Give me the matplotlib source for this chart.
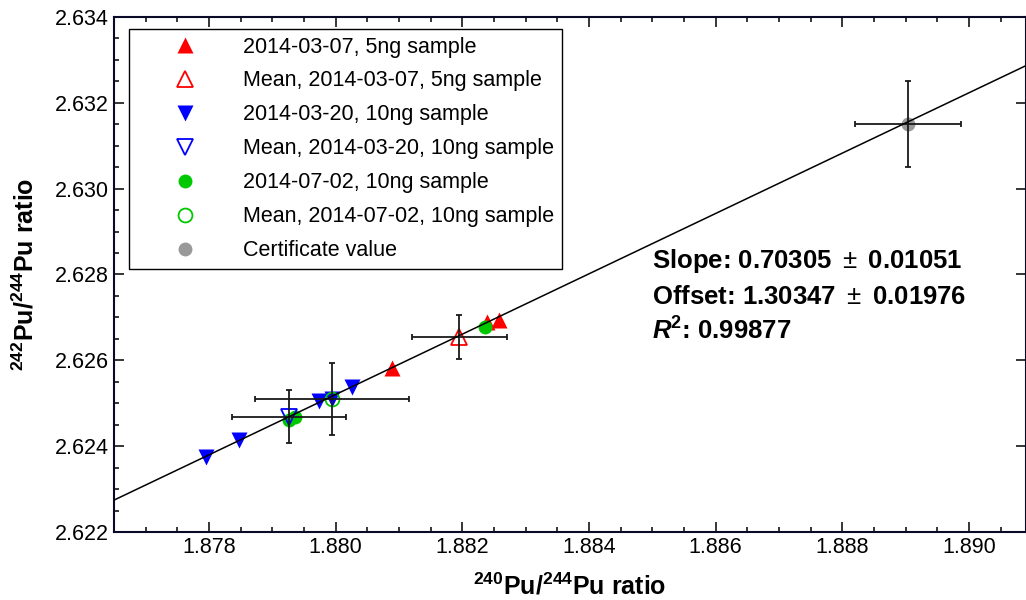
import matplotlib
matplotlib.use("Agg")
import matplotlib.pyplot as plt
import numpy as np
from matplotlib.ticker import MultipleLocator, FormatStrFormatter

plt.rcParams["font.family"] = ["Liberation Sans", "DejaVu Sans"]
plt.rcParams["mathtext.fontset"] = "custom"
plt.rcParams["mathtext.rm"] = "Liberation Sans"
plt.rcParams["mathtext.bf"] = "Liberation Sans:bold"
plt.rcParams["mathtext.it"] = "Liberation Sans:italic"
plt.rcParams["mathtext.bfit"] = "Liberation Sans:bold:italic"

# 2014-03-07, 5ng sample
x_0307 = [1.88089, 1.88239, 1.88258]
y_0307 = [2.62582, 2.62689, 2.62694]
mean_0307 = (1.88195, 2.62654)
err_0307 = (0.00075, 0.00052)

# 2014-03-20, 10ng sample
x_0320 = [1.87795, 1.87847, 1.87974, 1.87994, 1.88025]
y_0320 = [2.62374, 2.62414, 2.62505, 2.62509, 2.62539]
mean_0320 = (1.87927, 2.62469)
err_0320 = (0.00090, 0.000625)

# 2014-07-02, 10ng sample
x_0702 = [1.87927, 1.87936, 1.88236]
y_0702 = [2.62461, 2.62467, 2.62677]
mean_0702 = (1.87994, 2.62509)
err_0702 = (0.00122, 0.00084)

# certificate value
cert = (1.88904, 2.63150)
err_cert = (0.00084, 0.00100)

# linear fit results
slope, slope_err = 0.70305, 0.01051
offset, offset_err = 1.30347, 0.01976
r2 = 0.99877

xlim = (1.8765, 1.8909)
ylim = (2.622, 2.634)

RED = "#ff0000"
BLUE = "#0000ff"
GREEN = "#00c800"
GREY = "#999999"

fig = plt.figure(figsize=(10.26, 6.0), dpi=100)
ax = fig.add_axes([114 / 1026, 68 / 600, 912 / 1026, 515 / 600])

ms_tri = 11
ms_dot = 10
ax.plot(x_0307, y_0307, "^", color=RED, ms=ms_tri, mec="none",
        label="2014-03-07, 5ng sample", zorder=3)
ax.plot(*mean_0307, "^", mfc="none", mec=RED, mew=1.3, ms=ms_tri,
        label="Mean, 2014-03-07, 5ng sample", zorder=4)
ax.plot(x_0320, y_0320, "v", color=BLUE, ms=ms_tri, mec="none",
        label="2014-03-20, 10ng sample", zorder=3)
ax.plot(*mean_0320, "v", mfc="none", mec=BLUE, mew=1.3, ms=ms_tri,
        label="Mean, 2014-03-20, 10ng sample", zorder=4)
ax.plot(x_0702, y_0702, "o", color=GREEN, ms=ms_dot, mec="none",
        label="2014-07-02, 10ng sample", zorder=3)
ax.plot(*mean_0702, "o", mfc="none", mec=GREEN, mew=1.3, ms=ms_dot,
        label="Mean, 2014-07-02, 10ng sample", zorder=4)
ax.plot(*cert, "o", color=GREY, ms=ms_dot, mec="none",
        label="Certificate value", zorder=3)

# error bars on the means and the certificate
for (mx, my), (ex, ey) in [(mean_0307, err_0307), (mean_0320, err_0320),
                           (mean_0702, err_0702), (cert, err_cert)]:
    ax.errorbar(mx, my, xerr=ex, yerr=ey, fmt="none", ecolor="#1a1a1a",
                elinewidth=1.3, capsize=2.5, capthick=1.3, zorder=5)

# fit line across the whole x range
xf = np.array(xlim)
ax.plot(xf, slope * xf + offset, color="black", lw=1.1, zorder=6)

ax.set_xlim(*xlim)
ax.set_ylim(*ylim)
ax.xaxis.set_major_locator(MultipleLocator(0.002))
ax.xaxis.set_minor_locator(MultipleLocator(0.0005))
ax.yaxis.set_major_locator(MultipleLocator(0.002))
ax.yaxis.set_minor_locator(MultipleLocator(0.0005))
ax.xaxis.set_major_formatter(FormatStrFormatter("%.3f"))
ax.yaxis.set_major_formatter(FormatStrFormatter("%.3f"))
ax.tick_params(which="both", direction="in", top=True, labelsize=15.5, width=1.1)
ax.tick_params(which="major", length=7)
ax.tick_params(which="minor", length=3.5)
ax.tick_params(axis="y", which="major", right=True)
ax.tick_params(axis="y", which="minor", right=False)
for sp in ax.spines.values():
    sp.set_linewidth(1.5)
    sp.set_color("#0a0a28")

ax.set_xlabel(r"$\mathbf{^{240}Pu/^{244}Pu\ ratio}$", fontsize=18, labelpad=11)
ax.set_ylabel(r"$\mathbf{^{242}Pu/^{244}Pu\ ratio}$", fontsize=18, labelpad=12)

# fit summary
tx = 1.8850
ax.text(tx, 2.62815, f"Slope: {slope:.5f}" + r"$\ \pm\ $" + f"{slope_err:.5f}",
        fontsize=18.5, fontweight="bold")
ax.text(tx, 2.62731, f"Offset: {offset:.5f}" + r"$\ \pm\ $" + f"{offset_err:.5f}",
        fontsize=18.5, fontweight="bold")
ax.text(tx, 2.62649, r"$\mathbfit{R}^{\mathbf{2}}$" + f": {r2:.5f}",
        fontsize=18.5, fontweight="bold")

leg = ax.legend(loc="upper left", bbox_to_anchor=(15 / 912, 1 - 12 / 515),
                fontsize=15.5, frameon=True, fancybox=False, framealpha=1,
                edgecolor="black", handlelength=4.5, handletextpad=0.45,
                labelspacing=0.60, borderpad=0.35, borderaxespad=0)
leg.get_frame().set_linewidth(1.0)

fig.savefig("out.png", dpi=100)
